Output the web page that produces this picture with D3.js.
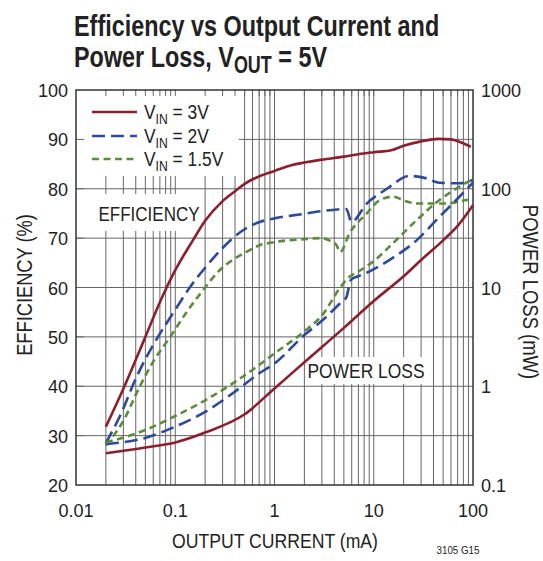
<!DOCTYPE html>
<html>
<head>
<meta charset="utf-8">
<script src="https://cdn.jsdelivr.net/npm/d3@7"></script>
<style>
  html, body { margin: 0; padding: 0; background: #fff; }
  svg { display: block; }
  text { font-family: "Liberation Sans", Arial, sans-serif; fill: #222; }
</style>
</head>
<body>
<div id="chart"></div>
<script>
// Output current (mA) vs efficiency (%) for each input voltage
const eff3V = [[0.02,31.8],[0.03,39.5],[0.05,50],[0.07,57],[0.1,63.5],[0.15,69.5],[0.2,73.5],[0.3,77.5],[0.4,79.5],[0.5,81],[0.7,82.5],[1,83.6],[1.5,84.8],[2,85.3],[3,85.9],[5,86.5],[7,87],[10,87.4],[15,87.8],[20,88.7],[30,89.6],[45,90.1],[60,90],[75,89.4],[95,88.5]];
const eff2V = [[0.02,28.5],[0.03,35.5],[0.037,40],[0.05,45.5],[0.067,50],[0.1,55.5],[0.14,60],[0.2,64],[0.3,68],[0.38,70],[0.5,71.8],[0.72,73.3],[1,74],[1.8,74.8],[3.8,75.7],[5.3,75.9],[5.95,73.3],[8.5,77],[13.6,80],[23,82.6],[34,82.1],[46,81.2],[73,81.1],[100,81.8]];
const eff15V = [[0.02,28],[0.03,33],[0.044,40],[0.06,45],[0.089,50],[0.13,55],[0.2,60],[0.28,63.5],[0.38,65.6],[0.5,67],[0.72,68.6],[1,69.2],[2,69.8],[3,70],[3.6,69.5],[4.2,68.6],[4.6,67.2],[5.7,71],[8.5,75],[11.5,77.7],[15.7,78.4],[21.5,77.4],[29,77],[50,77],[85,77.7],[100,78.1]];

// Output current (mA) vs power loss (mW)
const loss3V = [[0.02,0.21],[0.05,0.24],[0.1,0.27],[0.2,0.34],[0.5,0.52],[1,0.95],[2,1.75],[5,3.9],[10,7.3],[20,13],[30,19],[50,30],[70,42],[100,68]];
const loss2V = [[0.02,0.26],[0.05,0.3],[0.1,0.39],[0.2,0.55],[0.38,0.85],[0.7,1.35],[1,1.7],[2,3.3],[3,4.6],[4.5,6.8],[5.3,8],[5.9,12],[7,13],[9,14.5],[15,19.5],[27,30],[46,52],[73,83],[100,115]];
const loss15V = [[0.02,0.27],[0.05,0.36],[0.1,0.5],[0.2,0.72],[0.38,1.07],[0.7,1.64],[1,2.15],[2,3.6],[3,5.2],[4.6,10],[5.5,12.5],[7,14.5],[10,18.5],[15,27],[27,48],[46,77],[73,105],[100,125]];

const seriesNames = ["3V", "2V", "1.5V"];
const xTicks = [0.01, 0.1, 1, 10, 100];
const xTickLabels = ["0.01", "0.1", "1", "10", "100"];
const effTicks = [20, 30, 40, 50, 60, 70, 80, 90, 100];
const lossTicks = [0.1, 1, 10, 100, 1000];
const lossTickLabels = ["0.1", "1", "10", "100", "1000"];

const W = 543, H = 561;
const L = 76, R = 473, T = 90, B = 485;

const colors = { "3V": "#8c1f2e", "2V": "#2c4a9b", "1.5V": "#5b8c3d" };
const dashes = { "3V": null, "2V": "13,6", "1.5V": "7,4.5" };
const NARROW = 0.83;

const svg = d3.select("#chart").append("svg").attr("width", W).attr("height", H);

// condensed text: a text node drawn inside a horizontally squeezed group
function label(parent, x, y, size, opts = {}) {
  const g = parent.append("g")
    .attr("transform", `translate(${x},${y}) rotate(${opts.rotate || 0}) scale(${opts.sx || NARROW},1)`);
  return g.append("text").attr("x", 0).attr("y", 0).attr("font-size", size)
    .attr("text-anchor", opts.anchor || "start");
}

const x = d3.scaleLog().domain([0.01, 100]).range([L, R]);
const yEff = d3.scaleLinear().domain([20, 100]).range([B, T]);
const yLoss = d3.scaleLog().domain([0.1, 1000]).range([B, T]);

// grid
const minorX = [];
for (let d = 0.01; d < 100; d *= 10) for (let k = 1; k < 10; k++) minorX.push(+(d * k).toPrecision(3));
const grid = svg.append("g").attr("stroke", "#666").attr("stroke-width", 1);
grid.selectAll("line.v").data(minorX.slice(1)).join("line")
  .attr("x1", d => x(d)).attr("x2", d => x(d)).attr("y1", T).attr("y2", B);
grid.selectAll("line.h").data(effTicks.slice(1, -1)).join("line")
  .attr("x1", L).attr("x2", R).attr("y1", d => yEff(d)).attr("y2", d => yEff(d));

// white boxes behind the in-plot labels
svg.append("rect").attr("x", L + 1).attr("y", T + 1).attr("width", 162).attr("height", 85).attr("fill", "#fff");
svg.append("rect").attr("x", 97).attr("y", 194).attr("width", 104).attr("height", 37).attr("fill", "#fff");
svg.append("rect").attr("x", 308).attr("y", 357).attr("width", 118).attr("height", 27).attr("fill", "#fff");

// inward ticks along the frame
const ticks = svg.append("g").attr("stroke", "#666").attr("stroke-width", 1);
ticks.selectAll("line.t").data(minorX.slice(1)).join("line")
  .attr("x1", d => x(d)).attr("x2", d => x(d)).attr("y1", T).attr("y2", T + 6);
ticks.selectAll("line.l").data(effTicks.slice(1, -1)).join("line")
  .attr("x1", L).attr("x2", L + 8).attr("y1", d => yEff(d)).attr("y2", d => yEff(d));

// frame
svg.append("rect").attr("x", L).attr("y", T).attr("width", R - L).attr("height", B - T)
  .attr("fill", "none").attr("stroke", "#333").attr("stroke-width", 1.5);

// curves
const effLine = d3.line().x(d => x(d[0])).y(d => yEff(d[1])).curve(d3.curveMonotoneX);
const lossLine = d3.line().x(d => x(d[0])).y(d => yLoss(d[1])).curve(d3.curveMonotoneX);
const curves = [
  ["3V", eff3V, effLine], ["2V", eff2V, effLine], ["1.5V", eff15V, effLine],
  ["3V", loss3V, lossLine], ["2V", loss2V, lossLine], ["1.5V", loss15V, lossLine]
];
const cg = svg.append("g").attr("fill", "none").attr("stroke-width", 2.6);
curves.forEach(([name, data, gen]) => {
  cg.append("path").attr("d", gen(data)).attr("stroke", colors[name])
    .attr("stroke-dasharray", dashes[name]);
});

// legend
const legY = [112, 136, 159];
seriesNames.forEach((name, i) => {
  svg.append("line").attr("x1", 92).attr("x2", 137).attr("y1", legY[i]).attr("y2", legY[i])
    .attr("stroke", colors[name]).attr("stroke-width", 2.6).attr("stroke-dasharray", dashes[name]);
  const t = label(svg, 144, legY[i] + 7, 20, { sx: 0.87 });
  t.append("tspan").text("V");
  t.append("tspan").attr("font-size", 14).attr("dy", 5).text("IN");
  t.append("tspan").attr("dy", -5).text(" = " + name);
});

// in-plot labels
label(svg, 149, 221, 20.5, { anchor: "middle" }).text("EFFICIENCY");
label(svg, 366, 378, 21, { anchor: "middle" }).text("POWER LOSS");

// tick labels
effTicks.forEach(d => label(svg, L - 8, yEff(d) + 7, 19, { anchor: "end", sx: 0.95 }).text(d));
lossTicks.forEach((d, i) => label(svg, R + 8, yLoss(d) + 7, 19, { sx: 0.95 }).text(lossTickLabels[i]));
xTicks.forEach((d, i) => label(svg, x(d), 517, 19, { anchor: "middle", sx: 0.95 }).text(xTickLabels[i]));

// axis titles
label(svg, 275, 548, 21, { anchor: "middle", sx: 0.84 }).text("OUTPUT CURRENT (mA)");
label(svg, 32, 285, 22, { anchor: "middle", rotate: -90 }).text("EFFICIENCY (%)");
label(svg, 523, 292, 22, { anchor: "middle", rotate: 90, sx: 0.84 }).text("POWER LOSS (mW)");
label(svg, 458, 554, 11.5, { anchor: "middle", sx: 0.85 }).text("3105 G15");

// title
const t1 = label(svg, 74, 36, 30, { sx: 0.78 }).attr("font-weight", "bold").attr("fill", "#1a1a1a");
t1.text("Efficiency vs Output Current and");
const t2 = label(svg, 74, 67, 30, { sx: 0.78 }).attr("font-weight", "bold").attr("fill", "#1a1a1a");
t2.append("tspan").text("Power Loss, V");
t2.append("tspan").attr("font-size", 23).attr("dy", 6).text("OUT");
t2.append("tspan").attr("dy", -6).text(" = 5V");
</script>
</body>
</html>
